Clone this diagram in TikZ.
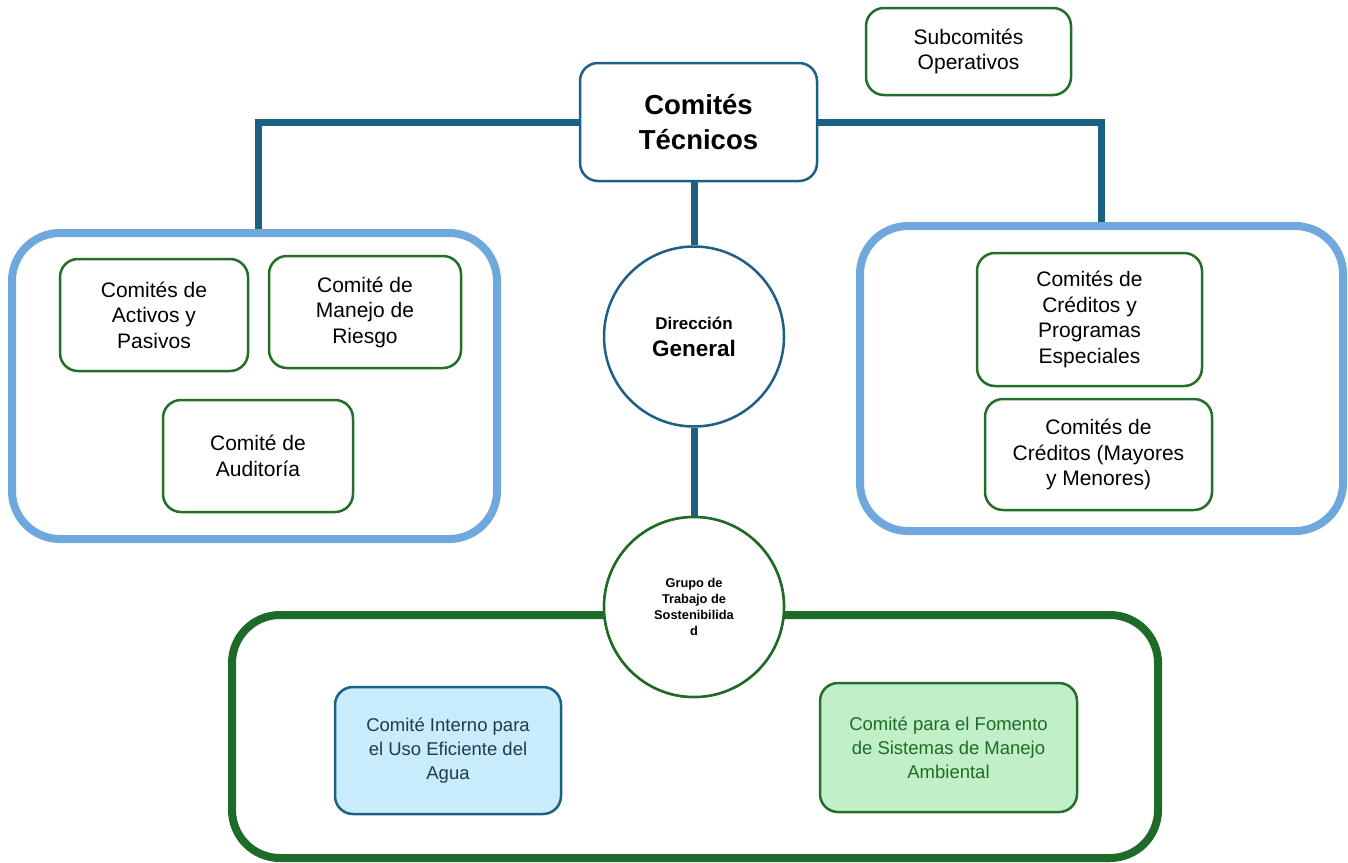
\documentclass[tikz,border=0pt]{standalone}
\usepackage{fontspec}
\setmainfont{Liberation Sans}
\definecolor{dblue}{HTML}{1C6084}
\definecolor{lblue}{HTML}{6FA8DC}
\definecolor{dgreen}{HTML}{1E6B27}
\definecolor{bgreen}{HTML}{236F2A}
\definecolor{fblue}{HTML}{C9ECFA}
\definecolor{fgreen}{HTML}{C1F0C8}
\definecolor{tblue}{HTML}{1E3A4F}
\tikzset{
  big/.style={draw=lblue, line width=8pt, rounded corners=48pt, inner sep=0pt},
  gbig/.style={draw=dgreen, line width=8pt, rounded corners=48pt, inner sep=0pt},
  cbox/.style={draw=bgreen, line width=2.5pt, rounded corners=18pt, fill=white, align=center, inner sep=0pt, font=\fontsize{21}{25.5}\selectfont},
  conn/.style={draw=dblue, line width=7pt},
  circ/.style={circle, line width=2.5pt, fill=white, minimum size=180pt, inner sep=0pt, align=center}
}
\begin{document}
\begin{tikzpicture}[x=1pt,y=-1pt]
\useasboundingbox (0,0) rectangle (1348,862);
% big containers
\node[big, minimum width=485pt, minimum height=306pt] (lb) at (254.5,386) {};
\node[big, minimum width=483pt, minimum height=305pt] (rb) at (1101.5,378.5) {};
\node[gbig, minimum width=926pt, minimum height=243pt] (gb) at (695,736.5) {};
% main nodes
\node[cbox, draw=dblue, minimum width=237pt, minimum height=118pt, font=\bfseries\fontsize{27.5}{35}\selectfont] (ct) at (698.5,122) {Comités\\Técnicos};
\node[cbox, minimum width=205pt, minimum height=87pt, font=\fontsize{21}{25}\selectfont] (so) at (968.5,51.5) {Subcomités\\Operativos};
\node[circ, draw=dblue, font=\bfseries\fontsize{22.5}{27}\selectfont] (dg) at (694,336.5) {{\fontsize{17}{20}\selectfont Dirección}\\General};
\node[circ, draw=dgreen] (gs) at (694,607) {};
% connectors
\draw[conn] (ct.west) -| ([xshift=3.5pt]lb.north);
\draw[conn] (ct.east) -| (rb.north);
\draw[conn] (dg.north) -- (dg.north |- ct.south);
\draw[conn] (dg.south) -- (gs.north);
\node[circ, draw=dgreen, font=\bfseries\fontsize{12.8}{16}\selectfont] at (gs) {Grupo de\\Trabajo de\\Sostenibilida\\d};
% inner left
\node[cbox, minimum width=188pt, minimum height=112pt] (ap) at (154,315) {Comités de\\Activos y\\Pasivos};
\node[cbox, minimum width=192pt, minimum height=112pt] (mr) at (365,312) {Comité de\\Manejo de\\Riesgo};
\node[cbox, minimum width=190pt, minimum height=112pt] (au) at (258,456) {Comité de\\Auditoría};
% inner right
\node[cbox, minimum width=225pt, minimum height=133pt] (cp) at (1089.5,319.5) {Comités de\\Créditos y\\Programas\\Especiales};
\node[cbox, minimum width=227pt, minimum height=111pt] (cm) at (1098.5,454.5) {Comités de\\Créditos (Mayores\\y Menores)};
% inner green box
\node[cbox, draw=dblue, fill=fblue, text=tblue, minimum width=226pt, minimum height=127pt, font=\fontsize{18.5}{24}\selectfont] (ag) at (448,750.5) {Comité Interno para\\el Uso Eficiente del\\Agua};
\node[cbox, draw=bgreen, fill=fgreen, text=dgreen, minimum width=257pt, minimum height=129pt, font=\fontsize{18.5}{24}\selectfont] (fm) at (948.5,747.5) {Comité para el Fomento\\de Sistemas de Manejo\\Ambiental};
\end{tikzpicture}
\end{document}
